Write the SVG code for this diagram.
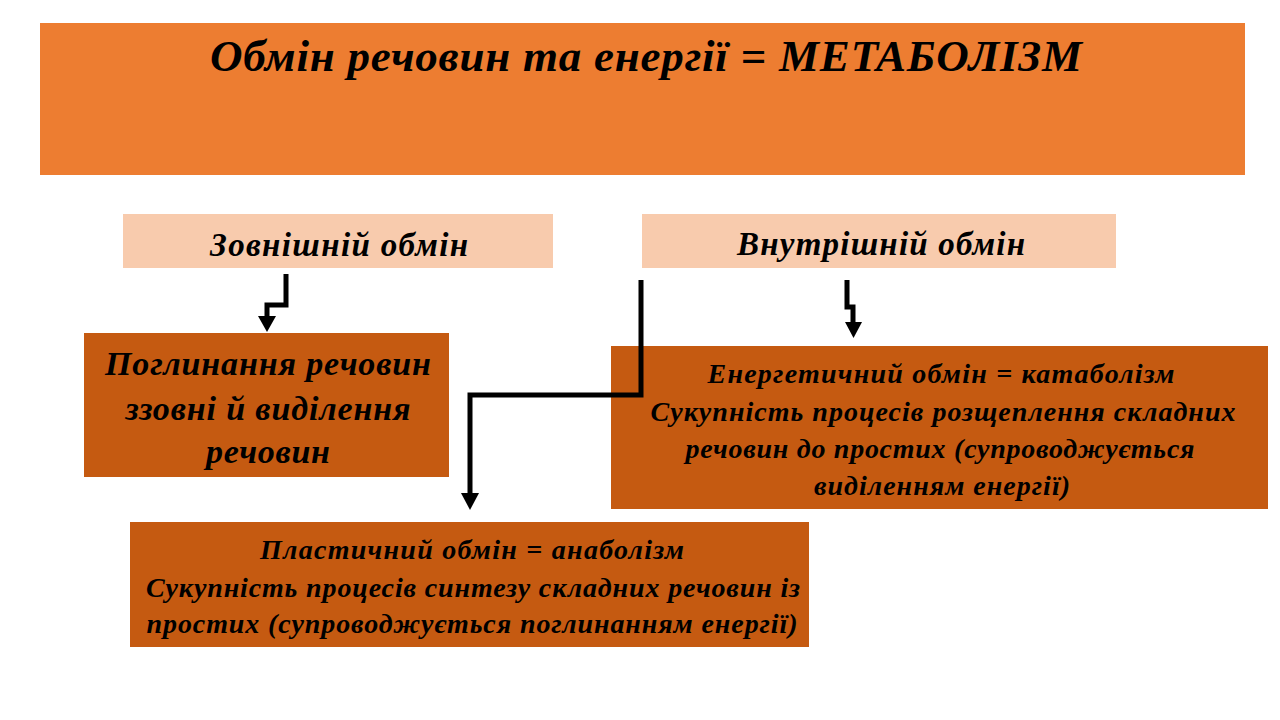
<svg xmlns="http://www.w3.org/2000/svg" width="1280" height="720" viewBox="0 0 1280 720">
<defs>
<style>
text{font-family:"Liberation Serif","DejaVu Serif",serif;font-weight:bold;font-style:italic;fill:#000;text-anchor:middle}
.title{font-size:45px}
.hdr{font-size:33px}
.big{font-size:34px}
.mid{font-size:28px}
.con{fill:none;stroke:#000;stroke-width:5}
</style>
</defs>
<rect width="1280" height="720" fill="#fff"/>
<g id="title">
<rect x="40" y="23" width="1205" height="152" fill="#ED7D31"/>
<text class="title" x="646" y="71" textLength="872">Обмін речовин та енергії = МЕТАБОЛІЗМ</text>
</g>
<g id="external">
<rect x="123" y="214" width="430" height="54" fill="#F8CBAD"/>
<text class="hdr" x="339" y="256" textLength="258">Зовнішній обмін</text>
</g>
<g id="internal">
<rect x="642" y="214" width="474" height="54" fill="#F8CBAD"/>
<text class="hdr" x="881" y="255" textLength="288">Внутрішній обмін</text>
</g>
<g id="absorption">
<rect x="84" y="333" width="365" height="144" fill="#C55A11"/>
<text class="big" x="268" y="375" textLength="326">Поглинання речовин</text>
<text class="big" x="268" y="420" textLength="285">ззовні й виділення</text>
<text class="big" x="268" y="463" textLength="124">речовин</text>
</g>
<g id="catabolism">
<rect x="611" y="346" width="657" height="163" fill="#C55A11"/>
<text class="mid" x="941" y="383" textLength="467">Енергетичний обмін = катаболізм</text>
<text class="mid" x="943" y="421" textLength="585">Сукупність процесів розщеплення складних</text>
<text class="mid" x="940" y="458" textLength="509">речовин до простих (супроводжується</text>
<text class="mid" x="942" y="495" textLength="256">виділенням енергії)</text>
</g>
<g id="anabolism">
<rect x="130" y="522" width="679" height="125" fill="#C55A11"/>
<text class="mid" x="472" y="559" textLength="424">Пластичний обмін = анаболізм</text>
<text class="mid" x="473" y="597" textLength="654">Сукупність процесів синтезу складних речовин із</text>
<text class="mid" x="472" y="633" textLength="651">простих (супроводжується поглинанням енергії)</text>
</g>
<g id="connectors">
<path class="con" d="M286 274 V305 H267 V316"/>
<path d="M258 316 H276 L267 332 Z" fill="#000"/>
<path class="con" d="M641 280 V395 H470 V493"/>
<path d="M461 493 H479 L470 510 Z" fill="#000"/>
<path class="con" d="M847 280 V307 H853 V322"/>
<path d="M845 322 H862 L853.5 338 Z" fill="#000"/>
</g>
</svg>
